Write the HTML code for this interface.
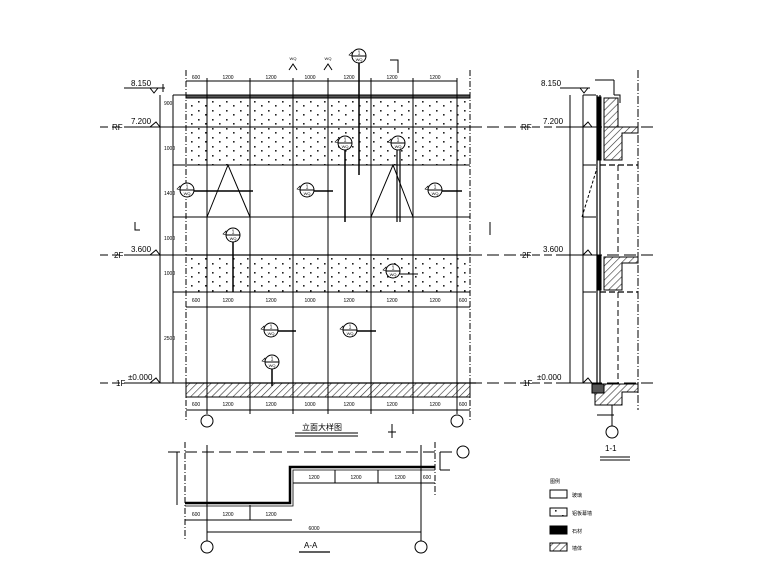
<!DOCTYPE html>
<html><head><meta charset="utf-8"><style>
html,body{margin:0;padding:0;background:#fff}
svg{display:block}
text{font-family:"Liberation Sans","Noto Sans CJK SC",sans-serif;fill:#000}
</style></head><body>
<svg width="780" height="586" viewBox="0 0 780 586" xmlns="http://www.w3.org/2000/svg">
<defs>
<pattern id="dots" width="14" height="9" patternUnits="userSpaceOnUse">
<rect width="14" height="9" fill="#fff"/>
<rect x="2" y="2" width="1.6" height="1.6" fill="#222"/>
<rect x="9" y="6" width="1.6" height="1.6" fill="#222"/>
</pattern>
<pattern id="hatch" width="5" height="5" patternUnits="userSpaceOnUse" patternTransform="rotate(45)">
<rect width="5" height="5" fill="#fff"/><line x1="0" y1="0" x2="0" y2="5" stroke="#333" stroke-width="1.2"/>
</pattern>
<g id="co"><circle r="7" fill="#fff" stroke="#000" stroke-width="1"/><line x1="-7" y1="0" x2="7" y2="0" stroke="#000" stroke-width="1"/><polygon points="-7,0 -10,-1 -7,-4" fill="none" stroke="#000" stroke-width="0.6"/><text x="0" y="-1.5" font-size="5" text-anchor="middle">1</text><text x="0" y="5" font-size="4" text-anchor="middle">WQ</text></g>
</defs>
<g stroke="#000" fill="none" stroke-width="1">
<rect x="186" y="98" width="284" height="67" fill="url(#dots)" stroke="none"/>
<rect x="186" y="255" width="284" height="37" fill="url(#dots)" stroke="none"/>
<rect x="186" y="383" width="284" height="14" fill="url(#hatch)"/>
<rect x="186" y="95" width="284" height="3" fill="#555"/>
<line x1="186" y1="255" x2="470" y2="255" stroke-width="2" stroke="#666"/>
<line x1="186" y1="127" x2="470" y2="127"/>
<line x1="186" y1="165" x2="470" y2="165"/>
<line x1="186" y1="217" x2="470" y2="217"/>
<line x1="186" y1="292" x2="470" y2="292"/>
<line x1="186" y1="307" x2="470" y2="307"/>
<line x1="186" y1="383" x2="476" y2="383" stroke-width="1.2"/>
<line x1="186" y1="410" x2="470" y2="410"/>
<line x1="186" y1="81" x2="457" y2="81"/>
<g>
<line x1="207" y1="78" x2="207" y2="414"/><line x1="250" y1="78" x2="250" y2="414"/>
<line x1="293" y1="78" x2="293" y2="414"/><line x1="328" y1="78" x2="328" y2="414"/>
<line x1="371" y1="78" x2="371" y2="414"/><line x1="413" y1="78" x2="413" y2="414"/>
<line x1="457" y1="78" x2="457" y2="414"/>
</g>
<line x1="186" y1="70" x2="186" y2="420" stroke-dasharray="6,2,1,2"/>
<line x1="470" y1="70" x2="470" y2="420" stroke-dasharray="6,2,1,2"/>
<line x1="470" y1="127" x2="530" y2="127" stroke-dasharray="12,5"/>
<line x1="470" y1="255" x2="530" y2="255" stroke-dasharray="12,5"/>
<line x1="470" y1="383" x2="530" y2="383" stroke-dasharray="12,5"/>
<polyline points="207,217 228,165 250,217"/>
<polyline points="371,217 393,165 413,217"/>
<line x1="160" y1="95" x2="160" y2="383"/><line x1="173" y1="95" x2="173" y2="383"/>
<line x1="173" y1="95" x2="186" y2="95"/>
<line x1="173" y1="165" x2="186" y2="165"/><line x1="173" y1="217" x2="186" y2="217"/><line x1="173" y1="292" x2="186" y2="292"/>
<line x1="124" y1="88" x2="165" y2="88"/><polyline points="150,88 154,93 158,88"/><line x1="163" y1="84" x2="163" y2="92"/>
<line x1="124" y1="127" x2="186" y2="127"/><polyline points="150,127 156,122 160,127"/>
<line x1="124" y1="255" x2="186" y2="255"/><polyline points="150,255 156,250 160,255"/>
<line x1="124" y1="383" x2="186" y2="383"/><polyline points="150,383 156,378 160,383"/>
<line x1="100" y1="127" x2="124" y2="127" stroke-dasharray="8,4"/>
<line x1="100" y1="255" x2="124" y2="255" stroke-dasharray="8,4"/>
<line x1="100" y1="383" x2="124" y2="383" stroke-dasharray="8,4"/>
<line x1="193" y1="191" x2="253" y2="191" stroke-width="1.5"/>
<line x1="313" y1="191" x2="333" y2="191" stroke-width="1.5"/>
<line x1="441" y1="191" x2="462" y2="191" stroke-width="1.5"/>
<line x1="233" y1="242" x2="233" y2="292" stroke-width="1.5"/>
<line x1="345" y1="150" x2="345" y2="222" stroke-width="1.5"/>
<line x1="397" y1="150" x2="397" y2="222" stroke-width="1.2"/><line x1="400" y1="150" x2="400" y2="222" stroke-width="1.2"/>
<line x1="359" y1="62" x2="359" y2="175" stroke-width="1.5"/>
<line x1="400" y1="274" x2="418" y2="274"/>
<line x1="278" y1="331" x2="296" y2="331" stroke-width="1.5"/>
<line x1="357" y1="331" x2="376" y2="331" stroke-width="1.5"/>
<line x1="272" y1="369" x2="272" y2="386" stroke-width="1.5"/>
<polyline points="289,70 293,64 297,70"/><polyline points="324,70 328,64 332,70"/>
<polyline points="390,60 398,60 398,73"/><polyline points="135,222 135,230 140,230"/><polyline points="490,222 490,235"/>
<line x1="388" y1="432" x2="396" y2="432"/><line x1="392" y1="424" x2="392" y2="438"/>
<circle cx="207" cy="421" r="6"/><circle cx="457" cy="421" r="6"/>
<line x1="295" y1="433" x2="358" y2="433"/><line x1="295" y1="436" x2="358" y2="436"/>
</g>
<g>
<use href="#co" x="187" y="190"/><use href="#co" x="307" y="190"/><use href="#co" x="435" y="190"/>
<use href="#co" x="233" y="235"/><use href="#co" x="345" y="143"/><use href="#co" x="398" y="143"/>
<use href="#co" x="359" y="56"/><use href="#co" x="393" y="271"/><use href="#co" x="271" y="330"/>
<use href="#co" x="350" y="330"/><use href="#co" x="272" y="362"/>
</g>
<g font-size="5" text-anchor="middle">
<text x="196" y="79">600</text><text x="228" y="79">1200</text><text x="271" y="79">1200</text><text x="310" y="79">1000</text><text x="349" y="79">1200</text><text x="392" y="79">1200</text><text x="435" y="79">1200</text>
<text x="196" y="302">600</text><text x="228" y="302">1200</text><text x="271" y="302">1200</text><text x="310" y="302">1000</text><text x="349" y="302">1200</text><text x="392" y="302">1200</text><text x="435" y="302">1200</text><text x="463" y="302">600</text>
<text x="196" y="406">600</text><text x="228" y="406">1200</text><text x="271" y="406">1200</text><text x="310" y="406">1000</text><text x="349" y="406">1200</text><text x="392" y="406">1200</text><text x="435" y="406">1200</text><text x="463" y="406">600</text>
<text x="293" y="60" font-size="4">WQ</text><text x="328" y="60" font-size="4">WQ</text>
</g>
<g font-size="8">
<text x="131" y="86">8.150</text><text x="131" y="124">7.200</text><text x="131" y="252">3.600</text><text x="128" y="380">±0.000</text>
<text x="112" y="130">RF</text><text x="114" y="258">2F</text><text x="116" y="386">1F</text>
<text x="302" y="430" font-size="8">立面大样图</text>
</g>
<g font-size="5">
<text x="164" y="105">900</text><text x="164" y="150">1000</text><text x="164" y="195">1400</text><text x="164" y="240">1000</text><text x="164" y="275">1000</text><text x="164" y="340">2500</text>
</g>

<g stroke="#000" fill="none" stroke-width="1">
<line x1="560" y1="88" x2="590" y2="88"/><polyline points="580,88 584,93 588,88"/>
<line x1="560" y1="127" x2="590" y2="127"/><polyline points="583,127 588,122 592,127"/>
<line x1="560" y1="255" x2="590" y2="255"/><polyline points="583,255 588,250 592,255"/>
<line x1="560" y1="383" x2="590" y2="383"/><polyline points="583,383 588,378 592,383"/>
<line x1="520" y1="127" x2="560" y2="127" stroke-dasharray="8,4"/>
<line x1="520" y1="255" x2="560" y2="255" stroke-dasharray="8,4"/>
<line x1="520" y1="383" x2="560" y2="383" stroke-dasharray="8,4"/>
<line x1="590" y1="127" x2="655" y2="127" stroke-dasharray="12,5"/>
<line x1="590" y1="255" x2="655" y2="255" stroke-dasharray="12,5"/>
<line x1="590" y1="383" x2="655" y2="383" stroke-dasharray="12,5"/>
<line x1="570" y1="95" x2="570" y2="383"/><line x1="583" y1="95" x2="583" y2="383"/>
<line x1="583" y1="95" x2="596" y2="95"/><line x1="583" y1="165" x2="596" y2="165"/><line x1="583" y1="217" x2="596" y2="217"/><line x1="583" y1="292" x2="596" y2="292"/>
<line x1="582" y1="217" x2="597" y2="168" stroke-dasharray="3,2"/>
<line x1="597" y1="95" x2="597" y2="385" stroke-width="1.2"/>
<line x1="600" y1="95" x2="600" y2="385" stroke-width="1.2"/>
<rect x="597" y="97" width="4" height="63" fill="#000"/>
<rect x="597" y="255" width="4" height="35" fill="#000"/>
<rect x="604" y="98" width="14" height="60" fill="url(#hatch)"/>
<path d="M612,127 H638 V133 H622 V160 H604 V127 Z" fill="url(#hatch)"/>
<path d="M604,257 H638 V263 H622 V290 H604 Z" fill="url(#hatch)"/>
<path d="M604,384 H638 V392 H622 V405 H595 V388 H604 Z" fill="url(#hatch)"/>
<rect x="592" y="384" width="12" height="9" fill="#555"/>
<line x1="600" y1="165" x2="638" y2="165" stroke-dasharray="6,3" stroke-width="1.2"/>
<line x1="600" y1="292" x2="638" y2="292" stroke-dasharray="6,3" stroke-width="1.2"/>
<line x1="618" y1="165" x2="618" y2="255" stroke-dasharray="6,3"/>
<line x1="618" y1="292" x2="618" y2="383" stroke-dasharray="6,3"/>
<line x1="638" y1="70" x2="638" y2="410" stroke-dasharray="8,2,1,2"/>
<line x1="595" y1="80" x2="614" y2="80"/><line x1="614" y1="80" x2="614" y2="95"/>
<polyline points="614,95 620,95 620,103"/>
<line x1="597" y1="415" x2="614" y2="415"/><line x1="612" y1="405" x2="612" y2="426"/>
<circle cx="612" cy="432" r="6"/>
<line x1="600" y1="457" x2="630" y2="457"/><line x1="600" y1="460" x2="630" y2="460"/>
</g>
<g font-size="8">
<text x="541" y="86">8.150</text><text x="543" y="124">7.200</text><text x="543" y="252">3.600</text><text x="537" y="380">±0.000</text>
<text x="521" y="130">RF</text><text x="522" y="258">2F</text><text x="523" y="386">1F</text>
<text x="605" y="451">1-1</text>
</g>

<g stroke="#000" fill="none" stroke-width="1">
<line x1="168" y1="452" x2="456" y2="452" stroke-dasharray="12,5"/>
<circle cx="463" cy="452" r="6"/>
<line x1="185" y1="442" x2="185" y2="540" stroke-dasharray="6,2,1,2"/>
<line x1="435" y1="442" x2="435" y2="495" stroke-dasharray="6,2,1,2"/>
<line x1="207" y1="445" x2="207" y2="541"/><line x1="421" y1="445" x2="421" y2="541"/>
<polyline points="185,503 290,503 290,467 435,467" stroke-width="2.5"/>
<polyline points="185,506 293,506 293,470 435,470" stroke-width="0.8"/>
<line x1="185" y1="520" x2="292" y2="520"/><line x1="250" y1="505" x2="250" y2="520"/>
<line x1="293" y1="483" x2="435" y2="483"/><line x1="335" y1="470" x2="335" y2="483"/><line x1="378" y1="470" x2="378" y2="483"/>
<line x1="207" y1="532" x2="421" y2="532"/>
<line x1="177" y1="452" x2="177" y2="505"/>
<line x1="440" y1="452" x2="440" y2="470"/><line x1="440" y1="470" x2="450" y2="470"/>
<circle cx="207" cy="547" r="6"/><circle cx="421" cy="547" r="6"/>
<line x1="299" y1="552" x2="330" y2="552" stroke-width="1.2"/>
</g>
<g font-size="5" text-anchor="middle">
<text x="196" y="516">600</text><text x="228" y="516">1200</text><text x="271" y="516">1200</text>
<text x="314" y="479">1200</text><text x="356" y="479">1200</text><text x="400" y="479">1200</text><text x="427" y="479">600</text>
<text x="314" y="530">6000</text>
</g>
<text x="304" y="548" font-size="8">A-A</text>

<g stroke="#000" stroke-width="1">
<rect x="550" y="490" width="17" height="8" fill="#fff"/>
<rect x="550" y="508" width="17" height="8" fill="url(#dots)"/>
<rect x="550" y="526" width="17" height="8" fill="#000"/>
<rect x="550" y="543" width="17" height="8" fill="url(#hatch)"/>
</g>
<g font-size="5">
<text x="550" y="483">图例</text><text x="572" y="497">玻璃</text><text x="572" y="515">铝板幕墙</text><text x="572" y="533">石材</text><text x="572" y="550">墙体</text>
</g>
</svg>
</body></html>
